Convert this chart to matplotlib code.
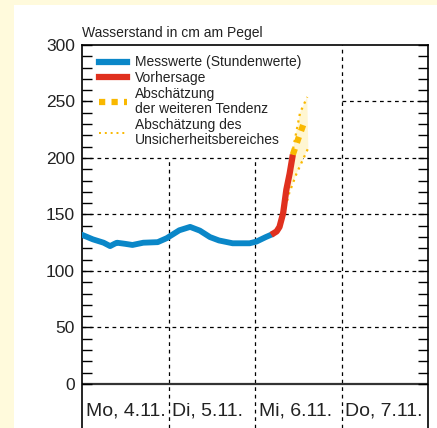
import matplotlib.pyplot as plt
from matplotlib.lines import Line2D

plt.rcParams["font.family"] = ["Liberation Sans", "DejaVu Sans"]

# hours since Mo, 4.11. 00:00
mess_h = [0, 3, 6, 7.8, 9, 9.7, 12, 14, 17, 21, 23.5, 25, 27, 30, 32.7, 35.5, 38,
          41.8, 46.5, 48.4, 51, 52.8]
mess_v = [132, 128, 125, 122, 124, 125, 124, 123, 125, 125.5, 129, 132, 136, 139,
          135.7, 130, 127, 124.5, 124.5, 126, 130, 132.5]

vorh_h = [52.5, 54.0, 54.8, 55.8, 56.7, 57.6, 58.5]
vorh_v = [132, 135, 139, 151, 172, 186, 203]

tend_h = [58.5, 60.0, 61.8]
tend_v = [203, 217, 233]

ober_h = [55.5, 57.0, 58.5, 60.5, 62.5]
ober_v = [150, 180, 207, 240, 254]
unter_h = [55.5, 57.5, 59.5, 61.5, 62.8]
unter_v = [145, 169, 186, 200, 209]

tage = ["Mo, 4.11.", "Di, 5.11.", "Mi, 6.11.", "Do, 7.11."]

blau = "#0a87c8"
rot = "#e0301e"
gelb = "#f9b800"

fig = plt.figure(figsize=(4.37, 4.28), dpi=100)
fig.patch.set_facecolor("#fffadc")

# white panel inside the cream border
bg = fig.add_axes([14 / 437, 0, 1 - 14 / 437, 1 - 5 / 428], zorder=-1)
bg.axis("off")
bg.add_patch(plt.Rectangle((0, 0), 1, 1, transform=bg.transAxes,
                           facecolor="white", edgecolor="none"))

ax = fig.add_axes([82 / 437, 0, (428 - 82) / 437, 1 - 45 / 428], zorder=1)
ax.set_facecolor("white")
ax.set_xlim(0, 96)
ax.set_ylim(-39, 300)

# grid (the legend box hides the upper left part)
grid = dict(color="black", lw=0.9, ls=(0, (3, 3)), zorder=1)
for y in (50, 100, 150, 200):
    ax.plot([0, 96], [y, y], **grid)
ax.plot([0, 2.8], [250, 250], **grid)
ax.plot([72, 96], [250, 250], **grid)
ax.plot([24, 24], [-39, 200], **grid)
ax.plot([48, 48], [-39, 200], **grid)
ax.plot([72, 72], [-39, 300], **grid)
ax.axhline(0, color="#333333", lw=1.6, zorder=1)

# uncertainty band
band_h = ober_h + unter_h[::-1]
band_v = ober_v + unter_v[::-1]
ax.fill(band_h, band_v, color="#fff6d2", lw=0, zorder=2)
ax.plot(ober_h, ober_v, color=gelb, lw=1.6, ls=(0, (1, 2)), zorder=3)
ax.plot(unter_h, unter_v, color=gelb, lw=1.6, ls=(0, (1, 2)), zorder=3)

ax.plot(mess_h, mess_v, color=blau, lw=4.2, solid_capstyle="round", zorder=4)
ax.plot(vorh_h, vorh_v, color=rot, lw=4.5, solid_capstyle="butt", zorder=5)
ax.plot(tend_h, tend_v, color=gelb, lw=4.5, ls=(0, (1, 1)), zorder=5)

# day labels
for i, t in enumerate(tage):
    ax.text(i * 24 + 1.1, -24, t, fontsize=14, va="center", ha="left", color="#222222")

ax.set_yticks(range(0, 301, 50))
ax.set_yticks(range(0, 301, 10), minor=True)
ax.set_xticks([])
ax.tick_params(axis="y", which="both", direction="in", length=7, width=1,
               left=True, right=True, labelsize=12.5, pad=5, labelcolor="#222222")
for s in ("left", "right", "top"):
    ax.spines[s].set_linewidth(1.2)
ax.spines["bottom"].set_visible(False)

fig.text(82 / 437, 1 - 33 / 428, "Wasserstand in cm am Pegel", fontsize=10,
         ha="left", va="center", color="#222222")

handles = [
    Line2D([], [], color=blau, lw=4.5),
    Line2D([], [], color=rot, lw=4.5),
    Line2D([], [], color=gelb, lw=4.5, ls=(0, (1, 1))),
    Line2D([], [], color=gelb, lw=1.4, ls=(0, (1, 2))),
]
labels = [
    "Messwerte (Stundenwerte)",
    "Vorhersage",
    "Abschätzung\nder weiteren Tendenz",
    "Abschätzung des\nUnsicherheitsbereiches",
]
leg = ax.legend(handles, labels, loc="upper left", bbox_to_anchor=(0.02, 1.0),
                fontsize=10, frameon=False, handlelength=2.0, handletextpad=0.55,
                labelspacing=0.12, borderpad=0.4, borderaxespad=0.35)
for txt in leg.get_texts():
    txt.set_color("#222222")
    txt.set_linespacing(1.1)
leg.set_zorder(6)

fig.savefig("out.png", dpi=100, facecolor=fig.get_facecolor())
